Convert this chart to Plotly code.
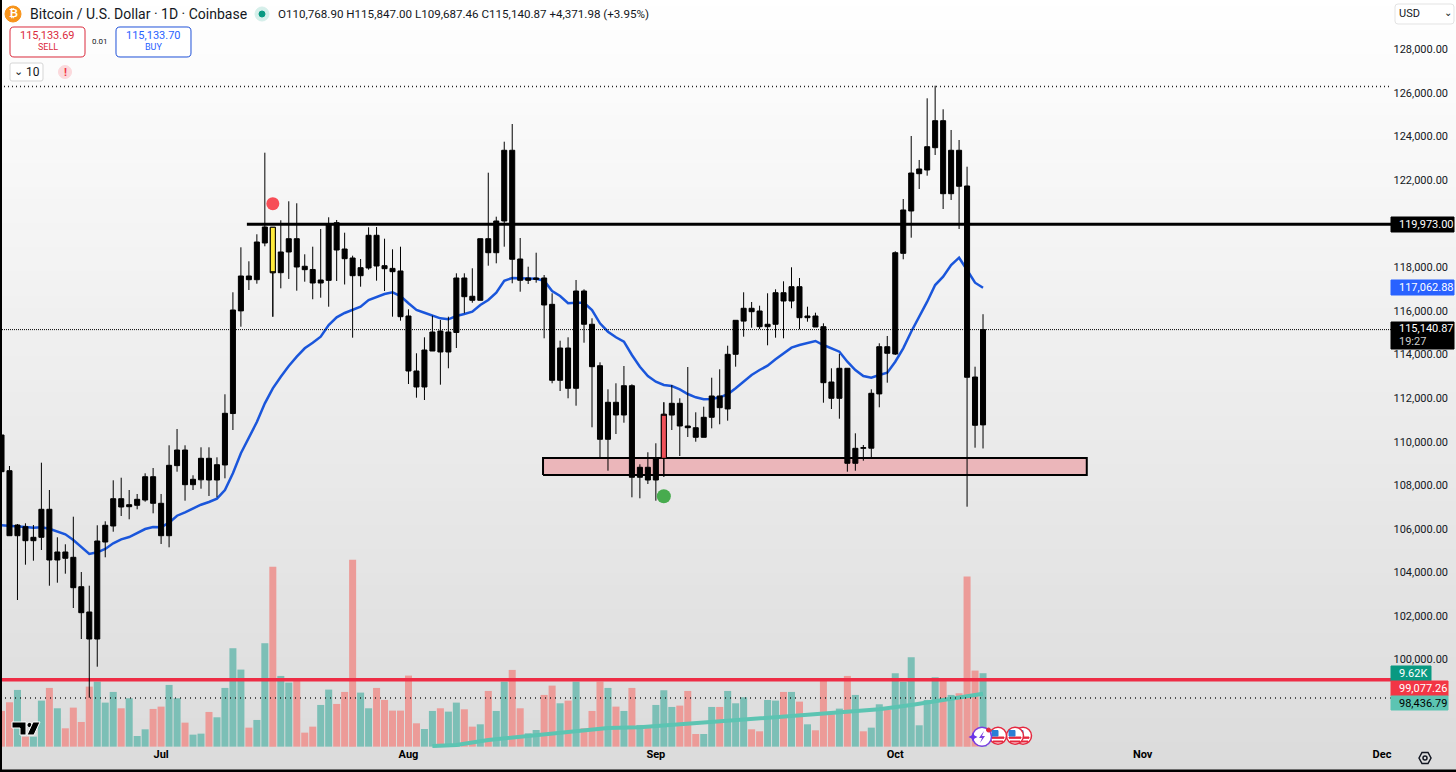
import numpy as np
import pandas as pd
import plotly.graph_objects as go

W, H = 1456, 772
FONT = "Roboto, sans-serif"
INK = "#131722"

# daily candles, first one is 11 Jun 2025
dates = pd.date_range("2025-06-11", periods=124, freq="D")

open_prices = [
    110306, 108668, 105685, 106098, 105456, 105612, 106897, 104571, 104938, 104694,
    103346, 102185, 100946, 105396, 106130, 107383, 107016, 107080, 107323, 108392,
    107172, 105685, 108900, 109617, 108025, 108250, 109237, 108241, 108930, 111290,
    116000, 117600, 117431, 119115, 119835, 117752, 118702, 119312, 118046, 117900,
    117279, 117400, 120046, 118839, 118426, 117614, 117968, 119468, 118073, 117950,
    117830, 115765, 113242, 112508, 114159, 115077, 114114, 115010, 117509, 116670,
    116486, 119312, 118669, 120124, 123368, 118380, 117403, 117509, 117509, 116300,
    112815, 114297, 112448, 116912, 115385, 113485, 110108, 111806, 111223, 112567,
    108365, 108824, 108241, 109237, 111220, 111760, 110718, 110640, 110200, 111118,
    112095, 111500, 114008, 115530, 116119, 115995, 115274, 115385, 116834, 116453,
    117110, 115687, 115765, 115274, 112737, 111989, 113366, 109007, 109695, 109700,
    112190, 114357, 114020, 118640, 120583, 122294, 122464, 123487, 124726, 121376,
    123368, 121730, 112965, 110768.90,
]
high_prices = [
    110397, 108883, 106222, 106254, 106176, 109035, 107782, 105612, 105291, 106557,
    104020, 103391, 106163, 106346, 108227, 108346, 107782, 107599, 108548, 108792,
    107599, 109833, 110581, 109833, 108457, 109741, 109741, 109282, 112173, 116853,
    118917, 118275, 119514, 123257, 119835, 120156, 121028, 120936, 118596, 118945,
    119757, 120294, 120170, 119587, 118532, 118380, 119835, 119849, 119312, 118825,
    118945, 116073, 114054, 114788, 115779, 115582, 115733, 117724, 117724, 117954,
    119312, 122340, 120321, 123762, 124574, 119344, 118027, 118669, 117646, 116807,
    114632, 114788, 117417, 116990, 115660, 113641, 112402, 112678, 113471, 112632,
    108961, 109512, 109925, 111806, 112600, 111989, 113425, 111347, 111604, 112934,
    113320, 114403, 115568, 116853, 116408, 116238, 116807, 116990, 117357, 118000,
    117509, 116192, 115917, 115430, 113366, 114022, 113366, 110383, 109847, 112402,
    114513, 114848, 118734, 121133, 124024, 122923, 125753, 126331, 125249, 124299,
    123840, 122615, 113439, 115847.00,
]
low_prices = [
    108600, 105685, 102735, 104355, 104538, 105029, 103391, 103529, 103942, 102368,
    100946, 98253, 99675, 104694, 105869, 106589, 106438, 106897, 107245, 106713,
    105305, 105153, 108622, 107291, 107782, 107842, 107507, 107447, 108319, 110535,
    115274, 116958, 117247, 118963, 115733, 117036, 117463, 116926, 117339, 116532,
    116605, 116192, 117371, 117211, 114770, 117110, 117890, 117385, 116912, 115733,
    115550, 112645, 112017, 111911, 114159, 112613, 113366, 114297, 115889, 116375,
    116486, 118073, 118183, 118945, 117266, 116880, 117233, 117293, 114742, 112678,
    112324, 111989, 111650, 114540, 110659, 109237, 108668, 110351, 110870, 107447,
    107401, 108057, 107291, 108392, 110535, 109342, 110214, 109998, 110200, 110613,
    110797, 110962, 113439, 114816, 115228, 115169, 114421, 114770, 114742, 116119,
    115155, 115504, 115261, 111787, 111498, 111053, 108622, 108668, 109126, 109264,
    111576, 112705, 113976, 118367, 119358, 121592, 122202, 123152, 120674, 121087,
    119757, 107016, 109723, 109687.46,
]
close_prices = [
    108622, 105685, 106176, 105456, 105612, 106897, 104571, 104938, 104649, 103300,
    102153, 100946, 105442, 106163, 107383, 107002, 107108, 107355, 108392, 107172,
    105685, 108915, 109617, 108025, 108273, 109237, 108241, 108943, 111301, 116041,
    117600, 117431, 119160, 119849, 117752, 118702, 119312, 118013, 117890, 117279,
    117417, 119954, 118793, 118394, 117614, 117981, 119468, 118059, 117935, 117798,
    115733, 113242, 112508, 114205, 115031, 114114, 115031, 117509, 116651, 116486,
    119312, 118669, 120124, 123368, 118367, 117403, 117509, 117449, 116270, 112815,
    114297, 112448, 116912, 115385, 113439, 110108, 111806, 111223, 112567, 108365,
    108824, 108241, 109237, 111255, 111760, 110718, 110640, 110200, 111118, 112095,
    111558, 114008, 115568, 116119, 115963, 115274, 115385, 116834, 116453, 117110,
    115687, 115765, 115261, 112705, 111989, 113366, 109007, 109695, 109723, 112219,
    114357, 114054, 118669, 120629, 122326, 122510, 123533, 124726, 121376, 123368,
    121716, 112953, 110751, 115140.87,
]
ema_values = [
    106162, 106144, 106130, 106084, 106052, 106070, 106006, 105887, 105749, 105488,
    105180, 104845, 104923, 105075, 105336, 105520, 105625, 105795, 105992, 106084,
    106070, 106282, 106603, 106759, 106942, 107107, 107231, 107383, 107782, 108548,
    109466, 110154, 110902, 111760, 112448, 112980, 113471, 113898, 114283, 114540,
    114815, 115352, 115705, 115903, 116040, 116192, 116499, 116650, 116774, 116852,
    116683, 116348, 116040, 115916, 115779, 115659, 115613, 115765, 115857, 115962,
    116270, 116499, 116834, 117384, 117508, 117508, 117494, 117476, 117384, 116912,
    116683, 116348, 116375, 116375, 116040, 115430, 115045, 114788, 114586, 113976,
    113439, 113012, 112751, 112599, 112553, 112402, 112186, 112035, 111943, 111957,
    112035, 112173, 112448, 112751, 113058, 113287, 113485, 113778, 114054, 114311,
    114434, 114540, 114618, 114434, 114265, 114127, 113668, 113287, 113012, 112934,
    113058, 113164, 113668, 114283, 115045, 115705, 116421, 117187, 117568, 118105,
    118440, 117875, 117293, 117062.88,
]
volumes = [
    4676, 5812, 7429, 1311, 1311, 6031, 7691, 5026, 2404, 5113,
    3234, 7866, 8522, 5768, 7167, 5026, 6337, 1398, 2272, 4938,
    5244, 8085, 6337, 3146, 1573, 1704, 4545, 3846, 7691, 12892,
    10095, 2491, 3496, 13547, 23554, 9264, 8390, 8740, 1835, 2622,
    5463, 7473, 5594, 7167, 24472, 7079, 5026, 7691, 6118, 4720,
    4720, 9308, 3059, 2316, 4676, 5026, 4589, 5768, 4894, 2622,
    2928, 7298, 4676, 8522, 10051, 5026, 1748, 2185, 6774, 7997,
    5681, 6031, 8522, 2404, 4676, 8522, 7691, 5244, 4676, 7691,
    2841, 2535, 5463, 7385, 5200, 5375, 7298, 1661, 1661, 5200,
    5200, 7298, 5681, 6468, 2272, 2010, 6118, 6031, 7167, 7167,
    5900, 2928, 2141, 8740, 4239, 4982, 9264, 6774, 2010, 2491,
    5550, 4807, 9614, 8522, 11712, 2797, 6118, 9090, 8740, 6774,
    6992, 22287, 9964, 9620,
]
# r = red bar, t = teal bar
volume_sides = list(
    "rrtrttrtrr" "rrtttrtttr" "rttrttrttt" "trttrttrrr"
    "ttrrrttrrr" "rrrttrttrr" "trttrrttrr" "trtrrrtrtr"
    "trtttrrrtt" "rtttrrttrt" "rtrrrtrtrt" "trttttttrt" "rrrt"
)

# slow teal indicator that sits on the price scale
teal_dates = ["2025-08-04", "2025-08-07", "2025-08-11", "2025-08-13", "2025-08-17", "2025-08-22",
              "2025-08-26", "2025-08-30", "2025-09-05", "2025-09-08", "2025-09-14", "2025-09-17",
              "2025-09-21", "2025-09-25", "2025-09-29", "2025-10-03", "2025-10-07", "2025-10-12"]
teal_values = [96037, 96082, 96312, 96390, 96541, 96738,
               96862, 96894, 97055, 97124, 97307, 97381,
               97491, 97610, 97720, 97918, 98147, 98436.79]

resistance_level = 119973.00
support_line_level = 99077.26
ath_level = 126296
last_price = 115140.87
lower_dotted_level = 98240
zone_low, zone_high = 108470, 109250
zone_start, zone_end = "2025-08-17 20:38", "2025-10-25"

sell_signal = ("2025-07-15", 120917)
buy_signal = ("2025-09-02", 107493)

# 120,000 sits under the 119,973.00 tag in the picture
price_ticks = [v for v in range(100000, 130000, 2000) if v != 120000]
month_ticks = ["2025-07-01", "2025-08-01", "2025-09-01", "2025-10-01", "2025-11-01", "2025-12-01"]
month_labels = ["Jul", "Aug", "Sep", "Oct", "Nov", "Dec"]

X_RANGE = ["2025-06-10 19:29", "2025-12-10 06:29"]
X_LINE_END = "2025-12-02 06:00"
PRICE_RANGE = [94844, 130263]
VOLUME_RANGE = [-3320, 97800]


def xp(x):
    return x / W


def yp(y):
    return 1 - y / H


def poly(points):
    body = " L ".join(f"{xp(x):.5f} {yp(y):.5f}" for x, y in points)
    return f"M {body} Z"


def rounded(x0, y0, x1, y1, r=4):
    a, b, c, d = xp(x0), xp(x1), yp(y0), yp(y1)
    rx, ry = r / W, r / H
    return (f"M {a + rx:.5f} {c:.5f} L {b - rx:.5f} {c:.5f} Q {b:.5f} {c:.5f} {b:.5f} {c - ry:.5f} "
            f"L {b:.5f} {d + ry:.5f} Q {b:.5f} {d:.5f} {b - rx:.5f} {d:.5f} "
            f"L {a + rx:.5f} {d:.5f} Q {a:.5f} {d:.5f} {a:.5f} {d + ry:.5f} "
            f"L {a:.5f} {c - ry:.5f} Q {a:.5f} {c:.5f} {a + rx:.5f} {c:.5f} Z")


shapes = []
annotations = []


def box(x0, y0, x1, y1, fill, line=None, lw=1, kind="rect"):
    shapes.append(dict(type=kind, xref="paper", yref="paper", x0=xp(x0), x1=xp(x1), y0=yp(y0), y1=yp(y1),
                       fillcolor=fill, line=dict(color=line or fill, width=lw), layer="above"))


def dot(cx, cy, r, fill, line=None, lw=1):
    box(cx - r, cy - r, cx + r, cy + r, fill, line, lw, kind="circle")


def shape_path(path, fill, line=None, lw=0):
    shapes.append(dict(type="path", xref="paper", yref="paper", path=path, fillcolor=fill,
                       line=dict(color=line or fill, width=lw), layer="above"))


def text(x, y, s, size=11, color=INK, anchor="left", bold=False):
    annotations.append(dict(xref="paper", yref="paper", x=xp(x), y=yp(y), text=f"<b>{s}</b>" if bold else s,
                            showarrow=False, xanchor=anchor, yanchor="middle", borderpad=0,
                            font=dict(family=FONT, size=size, color=color)))


traces = []

# background fade, white at the top to grey at the bottom
fade = np.linspace(0, 1, 65)
traces.append(go.Heatmap(x=X_RANGE, y=fade, z=[[v, v] for v in fade], showscale=False, hoverinfo="skip",
                         colorscale=[[0, "#DBDBDB"], [1, "#FFFFFF"]], zmin=0, zmax=1))

bar_colors = ["#EC9B98" if s == "r" else "#7CBFB6" for s in volume_sides]
traces.append(go.Bar(x=dates, y=volumes, marker=dict(color=bar_colors, line=dict(width=0)), yaxis="y2"))

line_ends = [X_RANGE[0], X_LINE_END]
traces.append(go.Scatter(x=teal_dates, y=teal_values, mode="lines", yaxis="y3",
                         line=dict(color="#5CC4B2", width=4)))
traces.append(go.Scatter(x=[zone_start, zone_end, zone_end, zone_start, zone_start],
                         y=[zone_low, zone_low, zone_high, zone_high, zone_low],
                         mode="lines", fill="toself", fillcolor="#EBB6BA", yaxis="y3",
                         line=dict(color="#000000", width=2)))
traces.append(go.Scatter(x=dates, y=ema_values, mode="lines", yaxis="y3",
                         line=dict(color="#1A56DB", width=2.5)))
traces.append(go.Scatter(x=line_ends, y=[ath_level] * 2, mode="lines", yaxis="y3",
                         line=dict(color="#222222", width=1.5, dash="1px 3px")))
traces.append(go.Scatter(x=line_ends, y=[last_price] * 2, mode="lines", yaxis="y3",
                         line=dict(color="#000000", width=1, dash="1px 1px")))
traces.append(go.Scatter(x=line_ends, y=[lower_dotted_level] * 2, mode="lines", yaxis="y3",
                         line=dict(color="#222222", width=1.5, dash="1px 4px")))
traces.append(go.Scatter(x=["2025-07-11 18:00", X_LINE_END], y=[resistance_level] * 2, mode="lines", yaxis="y3",
                         line=dict(color="#000000", width=3)))
traces.append(go.Scatter(x=line_ends, y=[support_line_level] * 2, mode="lines", yaxis="y3",
                         line=dict(color="#EE2C45", width=3.5)))

black = dict(line=dict(color="#000000", width=1), fillcolor="#000000")
traces.append(go.Candlestick(x=dates, open=open_prices, high=high_prices, low=low_prices, close=close_prices,
                             increasing=black, decreasing=black, whiskerwidth=0, yaxis="y4"))
for i, fill in [(34, "#FFEB3B"), (83, "#F0525A")]:
    mark = dict(line=dict(color="#000000", width=1), fillcolor=fill)
    traces.append(go.Candlestick(x=[dates[i]], open=[open_prices[i]], high=[high_prices[i]], low=[low_prices[i]],
                                 close=[close_prices[i]], increasing=mark, decreasing=mark,
                                 whiskerwidth=0, yaxis="y4"))

traces.append(go.Scatter(x=[sell_signal[0]], y=[sell_signal[1]], mode="markers", yaxis="y4",
                         marker=dict(color="#F74E57", size=13)))
traces.append(go.Scatter(x=[buy_signal[0]], y=[buy_signal[1]], mode="markers", yaxis="y4",
                         marker=dict(color="#47AB4E", size=14)))

# header
dot(13, 14, 8, "#F7931A")
text(13, 14, "₿", 11, "#FFFFFF", "center", True)
text(29, 14, "Bitcoin / U.S. Dollar · 1D · Coinbase", 14)
dot(262, 14, 7, "#D5EFEA")
dot(262, 14, 3, "#089981")
text(277, 14, "O110,768.90 H115,847.00 L109,687.46 C115,140.87 +4,371.98 (+3.95%)", 11.6)

shape_path(rounded(10, 27, 85, 57), "#FFFFFF", "#DB2B3D", 1)
text(47.5, 36, "115,133.69", 11, "#DB2B3D", "center")
text(47.5, 47, "SELL", 9, "#DB2B3D", "center")
text(100, 42, "0.01", 8, INK, "center")
shape_path(rounded(116, 27, 191, 57), "#FFFFFF", "#1E50D8", 1)
text(153.5, 36, "115,133.70", 11, "#2962FF", "center")
text(153.5, 47, "BUY", 9, "#2962FF", "center")
shape_path(rounded(10, 63, 43, 81, 2), "#FFFFFF", "#D6D6D6", 1)
text(18, 71, "⌄", 11, INK, "center")
text(33, 72, "10", 12, INK, "center")
dot(65, 72, 6.5, "#FBD9DC")
text(65, 72, "!", 11, "#F23645", "center", True)

shape_path(rounded(1395, 4, 1454, 24, 3), "#FFFFFF", "#E3E3E3", 1)
text(1398, 14, "USD", 11, INK)
text(1448, 13, "⌄", 10, INK, "center")

# price scale labels
box(1391, 217, 1454, 232, "#000000")
text(1398, 224.5, "119,973.00", 11, "#FFFFFF")
box(1391, 280, 1454, 295, "#2962FF")
text(1398, 287.5, "117,062.88", 11, "#FFFFFF")
box(1391, 322, 1454, 349, "#000000")
text(1398, 329, "115,140.87", 11, "#FFFFFF")
text(1398, 341, "19:27", 11, "#CFCFCF")
box(1391, 666, 1431, 681, "#089981")
text(1398, 673.5, "9.62K", 11, "#FFFFFF")
box(1391, 681, 1448, 696, "#F23645")
text(1398, 688.5, "99,077.26", 11, "#FFFFFF")
box(1391, 696, 1448, 710, "#5CC4B2")
text(1398, 703, "98,436.79", 11, "#000000")

# settings hexagon
shape_path(poly([(1419, 758), (1422, 752.5), (1428, 752.5), (1431, 758), (1428, 763.5), (1422, 763.5)]),
           "rgba(0,0,0,0)", "#131722", 1.5)
dot(1425, 758, 2, "rgba(0,0,0,0)", "#131722", 1.5)

# TradingView mark
shape_path(poly([(12, 722), (26, 722), (26, 735), (20, 735), (20, 728), (12, 728)]), "#000000", "#FFFFFF", 1)
dot(29.5, 725, 2.6, "#000000", "#FFFFFF", 1)
shape_path(poly([(33, 722), (40, 722), (34, 735), (27, 735)]), "#000000", "#FFFFFF", 1)

# event badges
for cx in [1023, 1015, 998]:
    dot(cx, 735.7, 8.5, "#FFFFFF", "#E5283F", 1.5)
    box(cx - 6, 737, cx + 6, 738.3, "#E5283F")
    box(cx - 5, 741, cx + 5, 742, "#E5283F")
    box(cx - 6, 730.5, cx, 736, "#2A7FD5")
dot(982, 736.7, 9.5, "#FFFFFF", "#7A3FE0", 1.5)
shape_path(poly([(984, 731), (979, 738), (982, 738), (980, 743), (985, 736), (982, 736)]), "#7A3FE0")
shape_path(poly([(973, 732.5), (974.5, 735.5), (977.5, 737), (974.5, 738.5), (973, 741.5),
                 (971.5, 738.5), (968.5, 737), (971.5, 735.5)]), "#6A35E8")
dot(988.5, 730, 2, "#E5283F")

# frame
box(0, 0, 1.5, 772, "#000000")
box(0, 770, 1456, 772, "#000000")

fig = go.Figure(data=traces)
hidden = dict(visible=False, fixedrange=True)
fig.update_layout(
    width=W,
    height=H,
    autosize=False,
    margin=dict(l=0, r=0, t=0, b=0, pad=0),
    paper_bgcolor="#FFFFFF",
    plot_bgcolor="#FFFFFF",
    showlegend=False,
    hovermode=False,
    bargap=0.12,
    boxgap=0.37,
    boxgroupgap=0,
    font=dict(family=FONT, color=INK),
    xaxis=dict(
        type="date",
        range=X_RANGE,
        rangeslider=dict(visible=False),
        anchor="free",
        position=26 / H,
        tickvals=month_ticks,
        ticktext=[f"<b>{m}</b>" for m in month_labels],
        tickfont=dict(size=11, color="#000000"),
        showgrid=False,
        showline=False,
        zeroline=False,
        ticks="",
    ),
    yaxis=dict(range=[0, 1], **hidden),
    yaxis2=dict(range=VOLUME_RANGE, overlaying="y", **hidden),
    yaxis3=dict(
        range=PRICE_RANGE,
        overlaying="y",
        side="right",
        tickvals=price_ticks,
        ticktext=[f"{v:,.2f}" for v in price_ticks],
        ticklabelposition="inside",
        ticklabelstandoff=5,
        tickfont=dict(size=11, color=INK),
        showgrid=False,
        zeroline=False,
        showline=False,
        ticks="",
    ),
    yaxis4=dict(range=PRICE_RANGE, overlaying="y", **hidden),
    shapes=shapes,
    annotations=annotations,
)

fig.write_html("out.html", config={"displayModeBar": False}, post_script="document.body.style.margin='0';")
